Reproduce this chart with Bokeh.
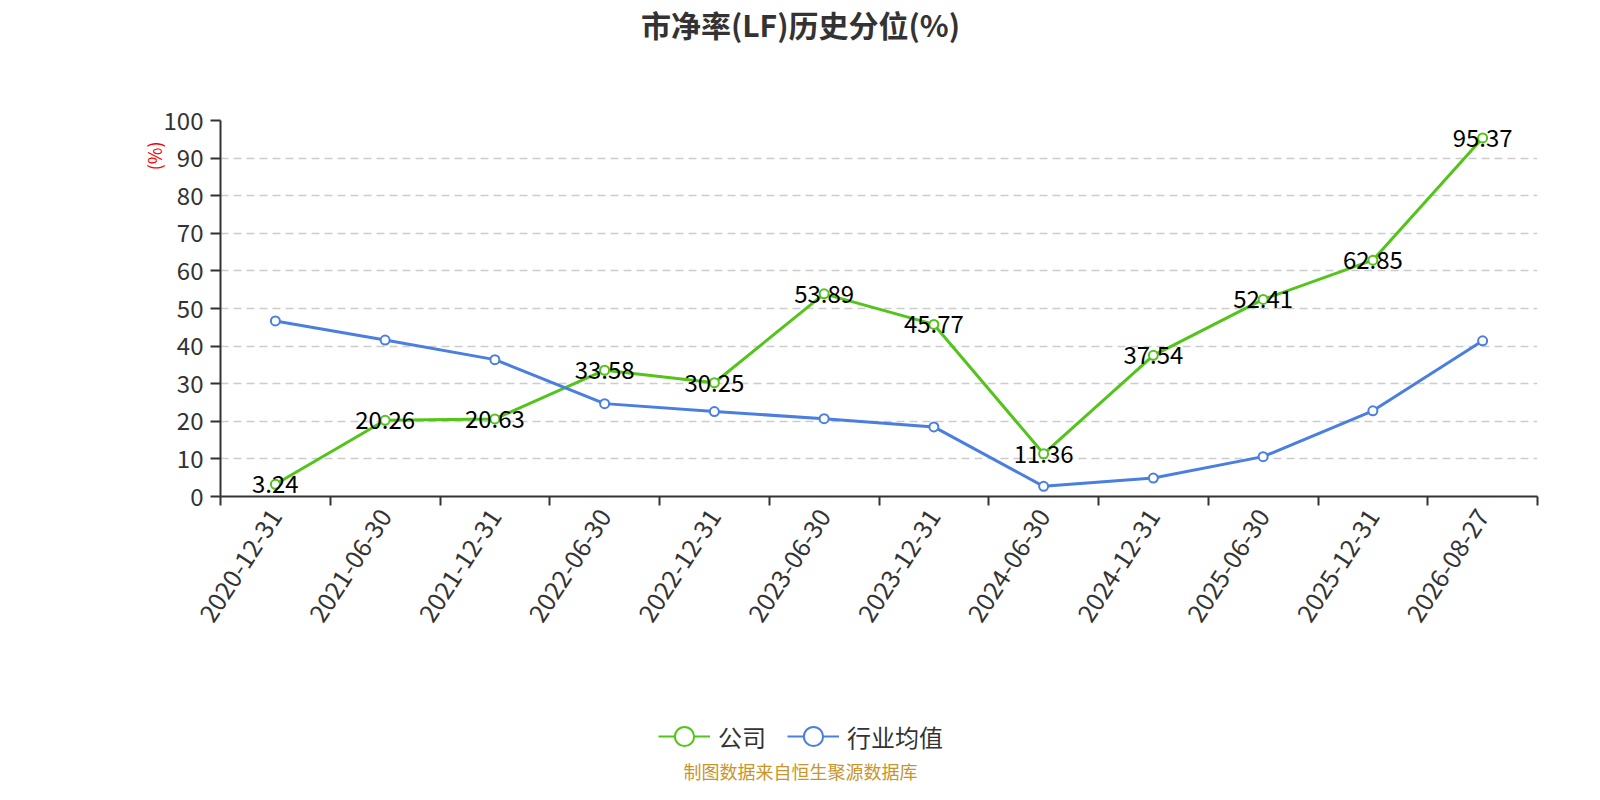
from bokeh.plotting import figure
from bokeh.layouts import column
from bokeh.models import (ColumnDataSource, FixedTicker, Legend, LegendItem,
                          Range1d, LabelSet, Title, Label)
from bokeh.embed import file_html
from bokeh.resources import INLINE
from bokeh.core.properties import value

categories = ["2020-12-31", "2021-06-30", "2021-12-31", "2022-06-30", "2022-12-31",
              "2023-06-30", "2023-12-31", "2024-06-30", "2024-12-31", "2025-06-30",
              "2025-12-31", "2026-08-27"]
company = [3.24, 20.26, 20.63, 33.58, 30.25, 53.89, 45.77, 11.36, 37.54, 52.41, 62.85, 95.37]
industry = [46.7, 41.6, 36.4, 24.7, 22.6, 20.7, 18.5, 2.7, 4.9, 10.6, 22.8, 41.4]
y_ticks = [0, 10, 20, 30, 40, 50, 60, 70, 80, 90, 100]

title_text = "市净率(LF)历史分位(%)"
series_names = ["公司", "行业均值"]
footer_text = "制图数据来自恒生聚源数据库"
y_name = "(%)"

GREEN = "#52c41a"
BLUE = "#4a7fe0"
FONT = "Noto Sans CJK SC"

W = 1584
HEAD_H, MAIN_H, FOOT_H = 100, 596, 88
L, R, T, B = 220, 47, 20, 200
CX = 800 - L  # page centre, relative to the (aligned) frame left edge


def blank_fig(h):
    f = figure(width=W, height=h, output_backend="svg", toolbar_location=None,
               x_axis_location=None, y_axis_location=None, min_border=0,
               x_range=Range1d(0, 1), y_range=Range1d(0, 1),
               background_fill_color="white", border_fill_color="white")
    f.outline_line_color = None
    f.grid.visible = False
    return f


# ---- head: title ----
head = blank_fig(HEAD_H)
head.add_layout(Label(x=CX, y=77, x_units="screen", y_units="screen",
                      text=title_text, text_align="center", text_baseline="middle",
                      text_font=FONT, text_font_size="30px", text_font_style="bold",
                      text_color="#333333"))

# ---- main chart ----
xs = [i + 0.5 for i in range(len(categories))]
src = ColumnDataSource(dict(x=xs, company=company, industry=industry,
                            lbl=[f"{v:.2f}" for v in company]))

p = figure(width=W, height=MAIN_H, output_backend="svg", toolbar_location=None,
           x_range=Range1d(0, len(categories)), y_range=Range1d(0, 100),
           min_border_left=L, min_border_right=R, min_border_top=T, min_border_bottom=B,
           background_fill_color="white", border_fill_color="white")
p.outline_line_color = None

p.xaxis.ticker = FixedTicker(ticks=xs, minor_ticks=list(range(len(categories) + 1)))
p.xaxis.major_label_overrides = {x: c for x, c in zip(xs, categories)}
p.xaxis.major_tick_line_color = None
p.xaxis.minor_tick_line_color = "#333333"
p.xaxis.minor_tick_line_width = 2
p.xaxis.minor_tick_out = 9
p.xaxis.minor_tick_in = 0
p.xaxis.major_label_orientation = 0.995
p.xaxis.major_label_text_font = FONT
p.xaxis.major_label_text_font_size = "25px"
p.xaxis.major_label_text_color = "#333333"
p.xaxis.major_label_standoff = 6
p.xaxis.axis_line_color = "#333333"
p.xaxis.axis_line_width = 2

p.yaxis.ticker = FixedTicker(ticks=y_ticks, minor_ticks=[])
p.yaxis.major_tick_line_color = "#333333"
p.yaxis.major_tick_line_width = 2
p.yaxis.major_tick_out = 10
p.yaxis.major_tick_in = 0
p.yaxis.minor_tick_line_color = None
p.yaxis.major_label_text_font = FONT
p.yaxis.major_label_text_font_size = "24px"
p.yaxis.major_label_text_color = "#333333"
p.yaxis.major_label_standoff = 7
p.yaxis.axis_line_color = "#333333"
p.yaxis.axis_line_width = 2

p.xgrid.grid_line_color = None
p.ygrid.ticker = FixedTicker(ticks=y_ticks[1:])
p.ygrid.grid_line_color = "#cccccc"
p.ygrid.grid_line_dash = "8 5"
p.ygrid.grid_line_width = 1.5

p.add_layout(Title(text=y_name, align="right", offset=21, standoff=-12,
                   text_font=FONT, text_font_size="18px", text_font_style="normal",
                   text_color="#ff0000"), "left")

p.line("x", "company", source=src, line_color=GREEN, line_width=3)
p.scatter("x", "company", source=src, size=9, fill_color="white",
          line_color=GREEN, line_width=2)
p.line("x", "industry", source=src, line_color=BLUE, line_width=3)
p.scatter("x", "industry", source=src, size=9, fill_color="white",
          line_color=BLUE, line_width=2)

p.add_layout(LabelSet(x="x", y="company", text="lbl", source=src, text_align="center",
                      text_baseline="middle", text_font=value(FONT),
                      text_font_size="24px", text_color="#000000"))

# ---- foot: legend + source note ----
foot = blank_fig(FOOT_H)
# legend sample glyphs only: one point kept outside the visible range
sample = ColumnDataSource(dict(x=[-10], y=[-10]))
gl = foot.line("x", "y", source=sample, line_color=GREEN, line_width=2)
gs = foot.scatter("x", "y", source=sample, fill_color="white", line_color=GREEN, line_width=2)
bl = foot.line("x", "y", source=sample, line_color=BLUE, line_width=2)
bs = foot.scatter("x", "y", source=sample, fill_color="white", line_color=BLUE, line_width=2)
legend = Legend(items=[LegendItem(label=series_names[0], renderers=[gl, gs]),
                       LegendItem(label=series_names[1], renderers=[bl, bs])],
                location=(658 - L, 24), orientation="horizontal",
                glyph_width=52, glyph_height=48, label_standoff=8, spacing=21,
                padding=0, margin=0, border_line_color=None,
                background_fill_alpha=0,
                label_text_font=FONT, label_text_font_size="24px",
                label_text_color="#333333")
foot.add_layout(legend, "center")
foot.add_layout(Label(x=CX, y=14, x_units="screen", y_units="screen",
                      text=footer_text, text_align="center", text_baseline="middle",
                      text_font=FONT, text_font_size="18px", text_color="#c8952b"))

layout = column(head, p, foot, spacing=0)
open("out.html", "w").write(file_html(layout, INLINE))
